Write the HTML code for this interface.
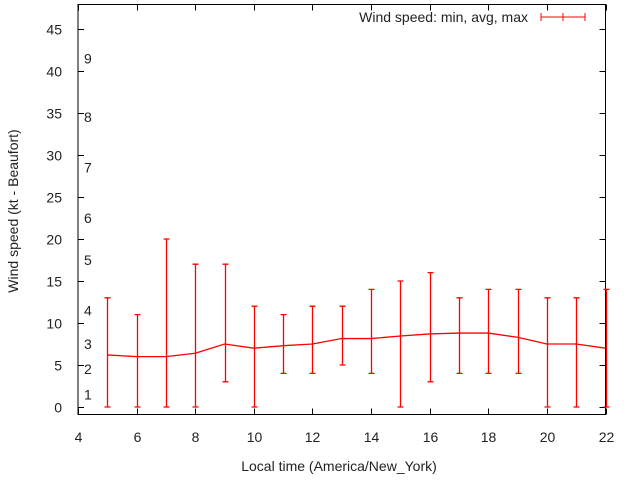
<!DOCTYPE html>
<html><head><meta charset="utf-8"><style>
body{margin:0;background:#fff}
svg text{font-family:"Liberation Sans",sans-serif;font-size:14px;fill:#222}
</style></head><body>
<svg id="chart" width="640" height="480" viewBox="0 0 640 480" xmlns="http://www.w3.org/2000/svg">
<g id="axes"></g>
<g id="series"></g>
<text x="339" y="471" text-anchor="middle">Local time (America/New_York)</text>
<text transform="translate(18,211) rotate(-90)" text-anchor="middle">Wind speed (kt - Beaufort)</text>
<g>
<text x="528" y="22" text-anchor="end">Wind speed: min, avg, max</text>
<path d="M541 17H585M541 13V21M585 13V21M563 13V21" stroke="red" stroke-width="1" fill="none"/>
</g>
</svg>
<script>
const hours=[5,6,7,8,9,10,11,12,13,14,15,16,17,18,19,20,21,22];
const minSpeed=[0,0,0,0,3,0,4,4,5,4,0,3,4,4,4,0,0,0];
const avgSpeed=[6.2,6.0,6.0,6.4,7.5,7.0,7.3,7.5,8.15,8.15,8.45,8.7,8.8,8.8,8.3,7.5,7.5,7.0];
const maxSpeed=[13,11,20,17,17,12,11,12,12,14,15,16,13,14,14,13,13,14];
const xTicks=[4,6,8,10,12,14,16,18,20,22];
const yTicks=[0,5,10,15,20,25,30,35,40,45];
const beaufortLabels=["1","2","3","4","5","6","7","8","9"];
const beaufortKt=[1.5,4.5,7.5,11.5,17.5,22.5,28.5,34.5,41.5];
const L=78,R=605.5,T=4.5,B=414.5;
const X=v=>L+(v-4)*(R-L)/18;
const Y=v=>407-v*8.4;
const NS="http://www.w3.org/2000/svg";
function mk(tag,attrs,parent){const e=document.createElementNS(NS,tag);for(const k in attrs)e.setAttribute(k,attrs[k]);parent.appendChild(e);return e;}
const ax=document.getElementById('axes');
const frame=mk('rect',{x:L,y:T,width:R-L,height:B-T,fill:'none',stroke:'#000','stroke-width':1},ax);


xTicks.forEach(t=>{
  const x=Math.round(X(t))+0.5;
  const p=mk('path',{d:`M${x} ${B}v-6M${x} ${T}v6`,stroke:'#000','stroke-width':1},ax);
  
  
  const tx=mk('text',{x:x,y:442,'text-anchor':'middle'},ax);tx.textContent=t;
  
  
});
yTicks.forEach(t=>{
  const y=Math.round(Y(t))+0.5;
  const p=mk('path',{d:`M${L} ${y}h6M${R} ${y}h-6`,stroke:'#000','stroke-width':1},ax);
  
  
  const tx=mk('text',{x:62,y:y+5,'text-anchor':'end'},ax);tx.textContent=t;
  
  
});
beaufortLabels.forEach((b,i)=>{
  const tx=mk('text',{x:84,y:Y(beaufortKt[i])+5},ax);tx.textContent=b;
  
  
});
const s=document.getElementById('series');
hours.forEach((h,i)=>{
  const x=Math.round(X(h))+0.5,y1=Y(minSpeed[i]),y2=Y(maxSpeed[i]);
  const p=mk('path',{d:`M${x} ${y1}V${y2}M${x-3} ${y1}h6M${x-3} ${y2}h6`,stroke:'red','stroke-width':1.3,fill:'none'},s);
  
  
});
const line=mk('polyline',{points:hours.map((h,i)=>X(h)+','+Y(avgSpeed[i])).join(' '),fill:'none',stroke:'red','stroke-width':1.3},s);


</script>
</body></html>
